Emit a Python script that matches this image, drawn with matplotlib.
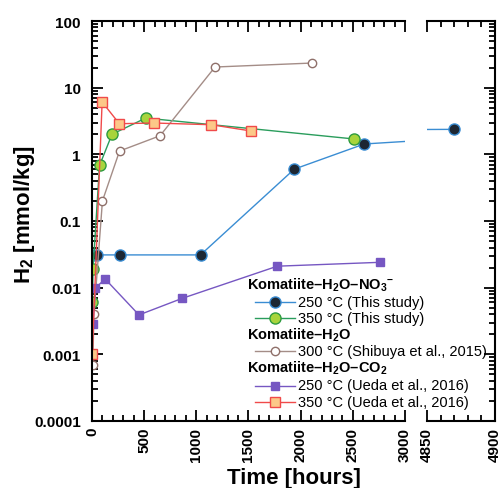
import matplotlib
matplotlib.use("Agg")
import matplotlib.pyplot as plt
from matplotlib.lines import Line2D
from matplotlib.ticker import FixedLocator, FixedFormatter, LogLocator, NullFormatter, MultipleLocator

plt.rcParams['font.family'] = ['Liberation Sans', 'DejaVu Sans']
plt.rcParams['mathtext.fontset'] = 'custom'
plt.rcParams['mathtext.rm'] = 'Liberation Sans'
plt.rcParams['mathtext.bf'] = 'Liberation Sans:bold'
plt.rcParams['mathtext.default'] = 'regular'

# ---- data ----
t_250_this = [5, 48, 264, 1040, 1939, 2610, 4870]
h2_250_this = [0.031, 0.031, 0.031, 0.031, 0.60, 1.43, 2.37]

t_350_this = [4, 10, 72, 192, 515, 2511]
h2_350_this = [0.0062, 0.019, 0.68, 2.0, 3.5, 1.7]

t_300_shib = [7, 19, 100, 264, 652, 1179, 2106]
h2_300_shib = [0.0007, 0.0040, 0.20, 1.12, 1.9, 20.4, 23.4]

t_250_ueda = [12, 30, 126, 450, 863, 1776, 2760]
h2_250_ueda = [0.0029, 0.0098, 0.0135, 0.0039, 0.0069, 0.021, 0.024]

t_350_ueda = [3, 97, 262, 594, 1144, 1524]
h2_350_ueda = [0.001, 6.1, 2.88, 2.95, 2.78, 2.24]

y_ticks = [0.0001, 0.001, 0.01, 0.1, 1, 10, 100]
y_tick_labels = ['0.0001', '0.001', '0.01', '0.1', '1', '10', '100']
x_ticks_main = [0, 500, 1000, 1500, 2000, 2500, 3000]
x_ticks_right = [4850, 4900]

legend_groups = [
    ("Komatiite–H$_\\mathbf{2}$O–NO$_\\mathbf{3}$$^\\mathbf{-}$", [("250 °C (This study)", 0), ("350 °C (This study)", 1)]),
    ("Komatiite–H$_\\mathbf{2}$O", [("300 °C (Shibuya et al., 2015)", 2)]),
    ("Komatiite–H$_\\mathbf{2}$O–CO$_\\mathbf{2}$", [("250 °C (Ueda et al., 2016)", 3), ("350 °C (Ueda et al., 2016)", 4)]),
]

styles = [
    dict(color='#3a8dd3', marker='o', mfc='#1d2733', mec='#3a8dd3', ms=8, lw=1.0, mew=1.0),
    dict(color='#2a9d5c', marker='o', mfc='#a8d43c', mec='#2e9b3f', ms=8, lw=1.0, mew=1.0),
    dict(color='#a48d87', marker='o', mfc='white', mec='#8f706a', ms=6, lw=1.0, mew=1.0),
    dict(color='#7657c2', marker='s', mfc='#7657c2', mec='#7657c2', ms=5.5, lw=1.0, mew=1.0),
    dict(color='#f04a4a', marker='s', mfc='#fcc888', mec='#f04a4a', ms=6.5, lw=1.0, mew=1.0),
]
series = [
    (t_250_this, h2_250_this),
    (t_350_this, h2_350_this),
    (t_300_shib, h2_300_shib),
    (t_250_ueda, h2_250_ueda),
    (t_350_ueda, h2_350_ueda),
]

W, H = 499, 489
fig = plt.figure(figsize=(W / 100, H / 100), dpi=100)
ax1 = fig.add_axes([92 / W, 1 - 422 / H, 313 / W, 400 / H])
ax2 = fig.add_axes([427 / W, 1 - 422 / H, 68 / W, 400 / H])

TICKFS = 11
for ax in (ax1, ax2):
    for (t, h), st in zip(series, styles):
        ax.plot(t, h, clip_on=True, **st)
    ax.set_yscale('log')
    ax.set_ylim(1e-4, 100)
    for s in ax.spines.values():
        s.set_linewidth(1.5)
    ax.tick_params(which='both', direction='in', width=1.3, top=True)
    ax.tick_params(which='major', length=8)
    ax.tick_params(which='minor', length=4)
    ax.yaxis.set_major_locator(FixedLocator(y_ticks))
    ax.yaxis.set_minor_locator(LogLocator(base=10, subs=range(2, 10), numticks=20))
    ax.yaxis.set_minor_formatter(NullFormatter())

ax1.set_xlim(0, 3000)
ax1.xaxis.set_major_locator(FixedLocator(x_ticks_main))
ax1.xaxis.set_minor_locator(MultipleLocator(100))
ax1.spines['right'].set_visible(False)
ax1.tick_params(which='both', left=True, right=False)
ax1.yaxis.set_major_formatter(FixedFormatter(y_tick_labels))
for lab in ax1.get_yticklabels():
    lab.set_fontweight('bold')
    lab.set_fontsize(TICKFS)
ax1.tick_params(axis='y', pad=8)
ax1.tick_params(axis='x', pad=4)
ax1.set_xticklabels([str(v) for v in x_ticks_main], rotation=90, fontweight='bold', fontsize=TICKFS)

ax2.set_xlim(4850, 4900)
ax2.xaxis.set_major_locator(FixedLocator(x_ticks_right))
ax2.xaxis.set_minor_locator(MultipleLocator(10))
ax2.spines['left'].set_visible(False)
ax2.tick_params(which='both', left=False, right=True, labelleft=False)
ax2.tick_params(axis='x', pad=4)
ax2.set_xticklabels([str(v) for v in x_ticks_right], rotation=90, fontweight='bold', fontsize=TICKFS)

ax1.set_ylabel('H$_\\mathbf{2}$ [mmol/kg]', fontsize=16, fontweight='bold')
ax1.yaxis.set_label_coords((37 - 92) / 313, (422 - 215) / 400)
fig.text(293.5 / W, 1 - 484 / H, 'Time [hours]', fontsize=16, fontweight='bold', ha='center', va='baseline')

# ---- legend (manual, figure pixel coords) ----
def fx(px):
    return px / W

def fy(py):
    return 1 - py / H

rows_y = [285, 302.7, 319, 335.5, 352, 368.5, 386.5, 403]
i = 0
for header, items in legend_groups:
    fig.text(fx(247), fy(rows_y[i]), header, fontsize=10.5, fontweight='bold', ha='left', va='center')
    i += 1
    for label, si in items:
        st = styles[si]
        y = fy(rows_y[i])
        fig.add_artist(Line2D([fx(255), fx(295)], [y, y], color=st['color'], lw=st['lw']))
        fig.add_artist(Line2D([fx(275)], [y], marker=st['marker'], mfc=st['mfc'], mec=st['mec'],
                              ms=st['ms'], mew=st['mew'], linestyle='none'))
        fig.text(fx(298), y, label, fontsize=10.5, ha='left', va='center')
        i += 1

fig.savefig('out.png', dpi=100)
